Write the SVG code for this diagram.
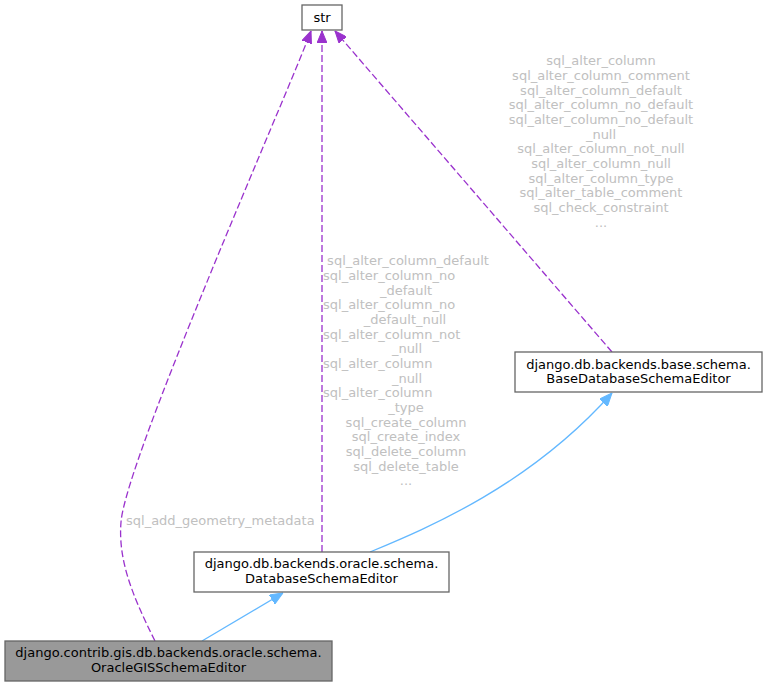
<svg xmlns="http://www.w3.org/2000/svg" width="766" height="687" viewBox="0 0 766 687">
<style>
text{font-family:"DejaVu Sans",sans-serif;font-size:13px;}
.nt{fill:#000;text-anchor:middle;}
.lb{fill:#c0c0c0;}
.lbm{fill:#c0c0c0;text-anchor:middle;}
.box{fill:#fff;stroke:#666;stroke-width:1.3;}
.cur{fill:#999;stroke:#666;stroke-width:1.3;}
.use{fill:none;stroke:#9a32cd;stroke-width:1.3;stroke-dasharray:7,3;}
.inh{fill:none;stroke:#63b8ff;stroke-width:1.3;}
</style>
<defs>
<marker id="pa" viewBox="0 0 12 10" refX="12" refY="5" markerWidth="12" markerHeight="10" markerUnits="userSpaceOnUse" orient="auto"><path d="M0,0 L12,5 L0,10 Z" fill="#9a32cd" stroke="#9a32cd" stroke-dasharray="none"/></marker>
<marker id="ba" viewBox="0 0 13 11" refX="13" refY="5.5" markerWidth="13" markerHeight="11" markerUnits="userSpaceOnUse" orient="auto"><path d="M0,0 L13,5.5 L0,11 Z" fill="#63b8ff" stroke="#63b8ff"/></marker>
</defs>
<g id="edges">
<path class="use" d="M155,641 C132,595 118,560 121,522 C126,460 285,100 311,31" marker-end="url(#pa)"/>
<path class="use" d="M322,552 L322,31" marker-end="url(#pa)"/>
<path class="use" d="M612,352 L335,31" marker-end="url(#pa)"/>
<path class="inh" d="M370,552 C430,527 530,485 612,393" marker-end="url(#ba)"/>
<path class="inh" d="M202,641 L283,593" marker-end="url(#ba)"/>
<text class="lb" x="126" y="525">sql_add_geometry_metadata</text>
<text class="lbm" x="408" y="265.3">sql_alter_column_default</text>
<text class="lb" x="323" y="280">sql_alter_column_no</text>
<text class="lbm" x="406" y="294.6">_default</text>
<text class="lb" x="323" y="309.3">sql_alter_column_no</text>
<text class="lbm" x="405" y="324">_default_null</text>
<text class="lb" x="323" y="338.6">sql_alter_column_not</text>
<text class="lbm" x="407" y="353.3">_null</text>
<text class="lb" x="323" y="368">sql_alter_column</text>
<text class="lbm" x="407" y="382.6">_null</text>
<text class="lb" x="323" y="397.3">sql_alter_column</text>
<text class="lbm" x="406" y="412">_type</text>
<text class="lbm" x="406" y="426.6">sql_create_column</text>
<text class="lbm" x="406" y="441.3">sql_create_index</text>
<text class="lbm" x="406" y="456">sql_delete_column</text>
<text class="lbm" x="406" y="470.6">sql_delete_table</text>
<text class="lbm" x="406" y="485.3">...</text>
<text class="lbm" x="601" y="65.3">sql_alter_column</text>
<text class="lbm" x="601" y="80">sql_alter_column_comment</text>
<text class="lbm" x="601" y="94.6">sql_alter_column_default</text>
<text class="lbm" x="601" y="109.3">sql_alter_column_no_default</text>
<text class="lbm" x="601" y="124">sql_alter_column_no_default</text>
<text class="lbm" x="601" y="138.6">_null</text>
<text class="lbm" x="601" y="153.3">sql_alter_column_not_null</text>
<text class="lbm" x="601" y="168">sql_alter_column_null</text>
<text class="lbm" x="601" y="182.6">sql_alter_column_type</text>
<text class="lbm" x="601" y="197.3">sql_alter_table_comment</text>
<text class="lbm" x="601" y="212">sql_check_constraint</text>
<text class="lbm" x="601" y="226.6">...</text>
</g>
<g id="node_str">
<rect class="box" x="302" y="5" width="40" height="25"/>
<text class="nt" x="322" y="22">str</text>
</g>
<g id="node_base">
<rect class="box" x="515" y="352" width="247" height="40"/>
<text class="nt" x="638.5" y="368.5">django.db.backends.base.schema.</text>
<text class="nt" x="638.5" y="383">BaseDatabaseSchemaEditor</text>
</g>
<g id="node_oracle">
<rect class="box" x="194" y="552" width="255" height="40"/>
<text class="nt" x="321.5" y="568">django.db.backends.oracle.schema.</text>
<text class="nt" x="321.5" y="582.5">DatabaseSchemaEditor</text>
</g>
<g id="node_gis">
<rect class="cur" x="5" y="641" width="327" height="40"/>
<text class="nt" x="168.5" y="657">django.contrib.gis.db.backends.oracle.schema.</text>
<text class="nt" x="168.5" y="671.5">OracleGISSchemaEditor</text>
</g>
</svg>
